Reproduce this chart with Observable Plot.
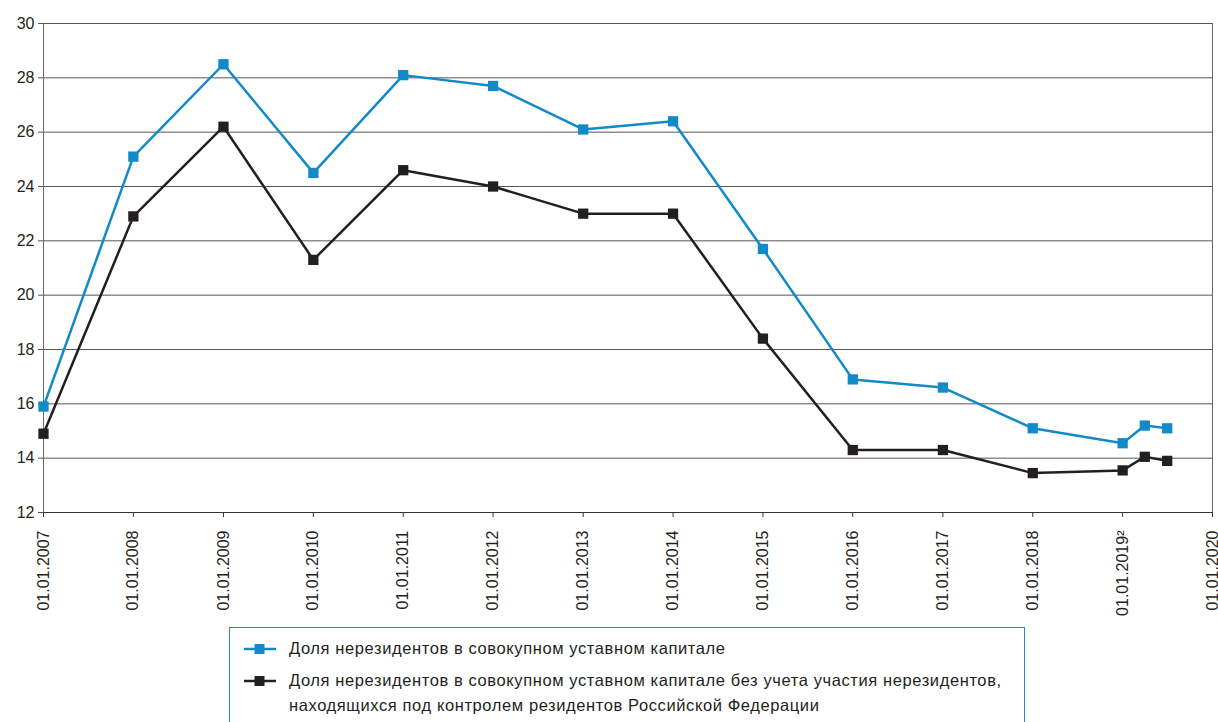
<!DOCTYPE html>
<html>
<head>
<meta charset="utf-8">
<script src="https://cdn.jsdelivr.net/npm/d3@7"></script>
<script src="https://cdn.jsdelivr.net/npm/@observablehq/plot@0.6"></script>
<style>
  body { margin: 0; background: #fff; font-family: "Liberation Sans", Arial, sans-serif; }
  #wrap { position: relative; width: 1218px; height: 722px; overflow: hidden; }
  #legend { position: absolute; left: 229px; top: 627px; width: 796px; height: 120px;
    border: 1px solid #1a8fc9; box-sizing: border-box; font-size: 16.5px; letter-spacing: 0.6px; color: #231f20; }
  .row { position: absolute; left: 14px; display: flex; align-items: flex-start; }
  .row svg { margin-right: 13px; flex: none; }
  .row span { line-height: 25px; }
</style>
</head>
<body>
<div id="wrap">
  <div id="chart"></div>
  <div id="legend"></div>
</div>
<script>
const dates = ["2007-01-01","2008-01-01","2009-01-01","2010-01-01","2011-01-01","2012-01-01","2013-01-01","2014-01-01","2015-01-01","2016-01-01","2017-01-01","2018-01-01","2019-01-01","2019-04-01","2019-07-01"];
const shareTotal = [15.9, 25.1, 28.5, 24.5, 28.1, 27.7, 26.1, 26.4, 21.7, 16.9, 16.6, 15.1, 14.55, 15.2, 15.1];
const shareExcl = [14.9, 22.9, 26.2, 21.3, 24.6, 24.0, 23.0, 23.0, 18.4, 14.3, 14.3, 13.45, 13.55, 14.05, 13.9];
const seriesNames = [
  "Доля нерезидентов в совокупном уставном капитале",
  "Доля нерезидентов в совокупном уставном капитале без учета участия нерезидентов, находящихся под контролем резидентов Российской Федерации"
];
const seriesColors = ["#1289c8", "#231f20"];
const yTicks = [12, 14, 16, 18, 20, 22, 24, 26, 28, 30];
const tickYears = [2007, 2008, 2009, 2010, 2011, 2012, 2013, 2014, 2015, 2016, 2017, 2018, 2019, 2020];
const footnoteYear = 2019;

const data = [];
dates.forEach((d, i) => {
  data.push({date: new Date(d), value: shareTotal[i], series: seriesNames[0]});
  data.push({date: new Date(d), value: shareExcl[i], series: seriesNames[1]});
});
const colorOf = s => seriesColors[seriesNames.indexOf(s)];

const chart = Plot.plot({
  width: 1218,
  height: 625,
  marginLeft: 43,
  marginRight: 6,
  marginTop: 23,
  marginBottom: 113,
  style: {fontFamily: "'Liberation Sans', Arial, sans-serif", fontSize: "16px", color: "#231f20", background: "#fff"},
  x: {type: "utc", domain: [new Date("2007-01-01"), new Date("2020-01-01")]},
  y: {domain: [12, 30]},
  marks: [
    Plot.gridY(yTicks, {stroke: "#444", strokeOpacity: 0.9}),
    Plot.ruleX([new Date("2020-01-01")], {stroke: "#666", y1: 12, y2: 30}),
    Plot.axisY({ticks: yTicks, tickSize: 5, tickPadding: 4, label: null, stroke: "#555"}),
    Plot.ruleX([new Date("2007-01-01")], {stroke: "#666", y1: 12, y2: 30}),
    Plot.ruleY([12], {stroke: "#333"}),
    Plot.axisX({
      ticks: tickYears.map(y => new Date(Date.UTC(y, 0, 1))),
      tickFormat: d => "01.01." + d.getUTCFullYear() + (d.getUTCFullYear() === footnoteYear ? "²" : ""),
      tickRotate: -90, tickSize: 5, tickPadding: 13, label: null, stroke: "#333"
    }),
    Plot.line(data, {x: "date", y: "value", z: "series", stroke: d => colorOf(d.series), strokeWidth: 2.5}),
    Plot.dot(data, {x: "date", y: "value", symbol: "square", r: 5.8, fill: d => colorOf(d.series), stroke: "none"})
  ]
});
document.getElementById("chart").appendChild(chart);

const legend = document.getElementById("legend");
const rowTops = [8, 40];
seriesNames.forEach((name, i) => {
  const row = document.createElement("div");
  row.className = "row";
  row.style.top = rowTops[i] + "px";
  row.style.width = "770px";
  row.innerHTML = `<svg width="32" height="25"><line x1="0" x2="32" y1="13" y2="13" stroke="${seriesColors[i]}" stroke-width="2.5"/><rect x="10.5" y="8" width="10" height="10" fill="${seriesColors[i]}"/></svg><span>${name}</span>`;
  legend.appendChild(row);
});
</script>
</body>
</html>
